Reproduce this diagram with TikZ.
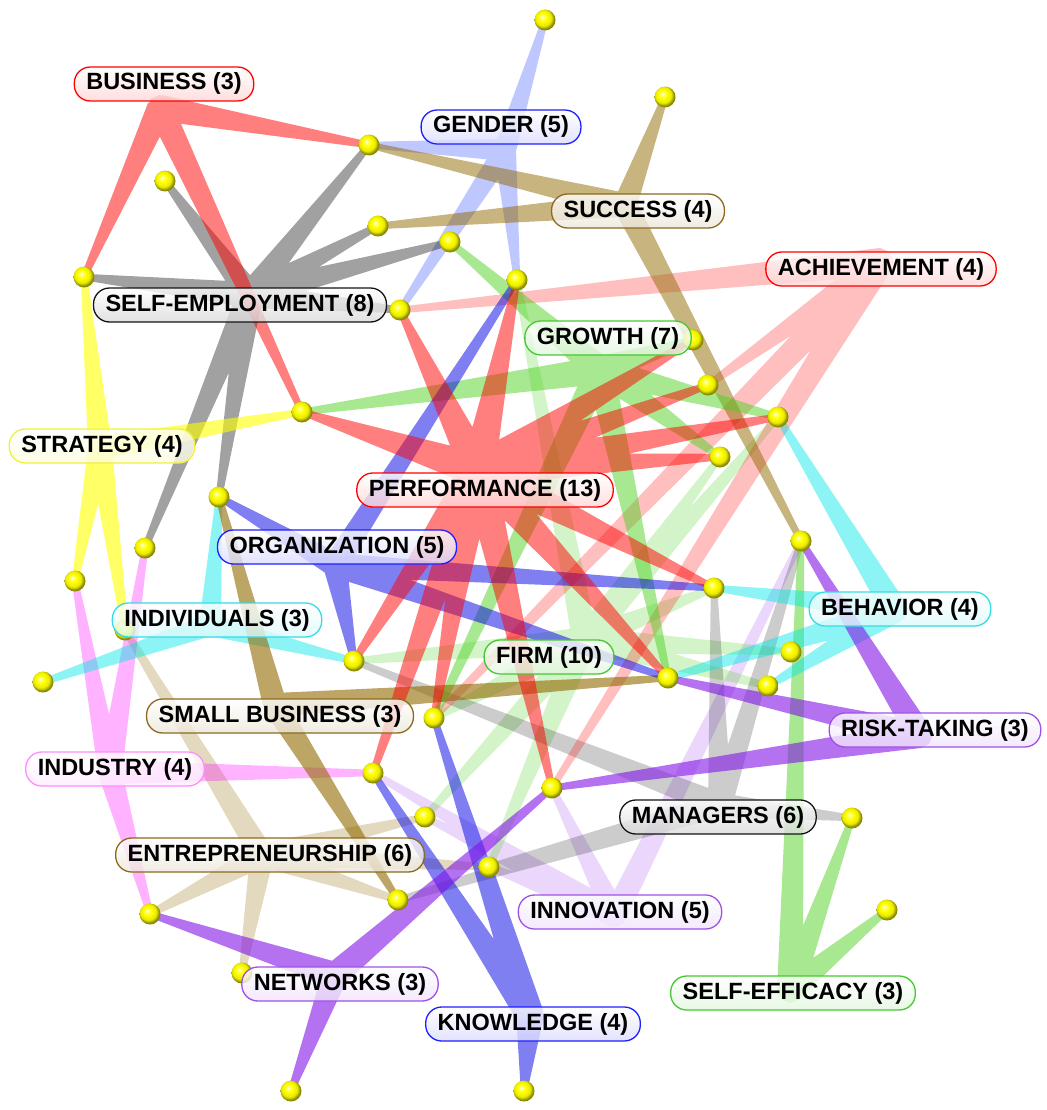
\documentclass[tikz,border=0pt]{standalone}
\usepackage{fontspec}
\setmainfont{Liberation Sans}
\usetikzlibrary{calc}
\pgfdeclarelayer{bg}
\pgfsetlayers{bg,main}

\definecolor{cRed}{RGB}{255,0,0}
\definecolor{cBlk}{RGB}{0,0,0}
\definecolor{cBlue}{RGB}{0,0,230}
\definecolor{cGBlue}{RGB}{0,30,255}
\definecolor{cGreen}{RGB}{80,210,35}
\definecolor{cTan}{RGB}{145,105,0}
\definecolor{cYel}{RGB}{255,255,0}
\definecolor{cCyan}{RGB}{0,230,230}
\definecolor{cPink}{RGB}{255,0,255}
\definecolor{cPurp}{RGB}{130,20,230}

\definecolor{bRed}{RGB}{255,0,0}
\definecolor{bBlk}{RGB}{20,20,20}
\definecolor{bBlue}{RGB}{30,30,255}
\definecolor{bTan}{RGB}{140,105,30}
\definecolor{bGreen}{RGB}{70,200,50}
\definecolor{bYel}{RGB}{240,240,60}
\definecolor{bCyan}{RGB}{50,220,230}
\definecolor{bPink}{RGB}{255,140,255}
\definecolor{bPurp}{RGB}{160,80,230}

\pgfdeclareradialshading{yball}{\pgfqpoint{-7bp}{8bp}}{%
  color(0bp)=(white); color(4bp)=(yellow!55!white); color(10bp)=(yellow);
  color(19bp)=(yellow!92!black); color(25bp)=(yellow!55!black);
  color(50bp)=(yellow!40!black)}

\tikzset{
  lab/.style={rounded corners=16pt, draw=#1, line width=1.3pt,
    top color=white, bottom color=#1!16!white, fill opacity=.8, text opacity=1,
    font=\fontsize{23.5}{28}\selectfont\bfseries,
    inner xsep=12pt, inner ysep=6pt, text height=17pt, text depth=5pt},
  sph/.style={circle, inner sep=0pt, minimum size=21pt, shade, shading=yball}
}

% one filled path per concept: tapered wedges from the hub to each ball
% #1 colour, #2 opacity, #3 hub, #4 hub half-width, #5 balls
\newcommand\grp[5]{%
  \fill[fill=#1, fill opacity=#2]
    \foreach \q in {#5} {
      ($(#3)!#4pt!90:(\q)$) -- ($(\q)!3.2pt!-90:(#3)$) -- ($(\q)!3.2pt!90:(#3)$) -- ($(#3)!#4pt!-90:(\q)$) -- cycle
    }
    ($(#3)+(#4,0)$) -- ($(#3)+(0.7*#4,0.7*#4)$) -- ($(#3)+(0,#4)$) -- ($(#3)+(-0.7*#4,0.7*#4)$) --
    ($(#3)+(-#4,0)$) -- ($(#3)+(-0.7*#4,-0.7*#4)$) -- ($(#3)+(0,-#4)$) -- ($(#3)+(0.7*#4,-0.7*#4)$) -- cycle;}

\begin{document}
\begin{tikzpicture}[x=1pt,y=-1pt]
\useasboundingbox (0,0) rectangle (1046,1110);

% hubs
\coordinate (hBus) at (160,108);
\coordinate (hGen) at (505,150);
\coordinate (hSuc) at (625,205);
\coordinate (hAch) at (880,262);
\coordinate (hSelf) at (250,295);
\coordinate (hGro) at (600,370);
\coordinate (hStr) at (100,448);
\coordinate (hPerf) at (478,470);
\coordinate (hOrg) at (335,565);
\coordinate (hInd) at (210,625);
\coordinate (hBeh) at (895,610);
\coordinate (hFirm) at (585,640);
\coordinate (hSmall) at (275,705);
\coordinate (hRisk) at (920,735);
\coordinate (hIndu) at (110,772);
\coordinate (hMan) at (720,805);
\coordinate (hEnt) at (262,855);
\coordinate (hInno) at (615,915);
\coordinate (hNet) at (335,975);
\coordinate (hEff) at (790,990);
\coordinate (hKno) at (530,1015);

% balls
\node[sph] (b1) at (545,20) {};
\node[sph] (b2) at (665,97) {};
\node[sph] (b3) at (369,145) {};
\node[sph] (b4) at (165,181) {};
\node[sph] (b5) at (378,226) {};
\node[sph] (b6) at (450,242) {};
\node[sph] (b7) at (84,277) {};
\node[sph] (b8) at (517,280) {};
\node[sph] (b9) at (400,310) {};
\node[sph] (b10) at (693,340) {};
\node[sph] (b11) at (708,385) {};
\node[sph] (b12) at (778,417) {};
\node[sph] (b13) at (302,412) {};
\node[sph] (b14) at (720,457) {};
\node[sph] (b15) at (219,497) {};
\node[sph] (b16) at (145,548) {};
\node[sph] (b17) at (801,541) {};
\node[sph] (b18) at (75,581) {};
\node[sph] (b19) at (125,630) {};
\node[sph] (b20) at (714,588) {};
\node[sph] (b21) at (43,682) {};
\node[sph] (b22) at (354,661) {};
\node[sph] (b23) at (791,652) {};
\node[sph] (b24) at (668,678) {};
\node[sph] (b25) at (768,686) {};
\node[sph] (b26) at (434,718) {};
\node[sph] (b27) at (373,773) {};
\node[sph] (b28) at (552,788) {};
\node[sph] (b29) at (425,817) {};
\node[sph] (b30) at (852,818) {};
\node[sph] (b31) at (489,867) {};
\node[sph] (b32) at (398,900) {};
\node[sph] (b33) at (150,914) {};
\node[sph] (b34) at (887,910) {};
\node[sph] (b35) at (242,973) {};
\node[sph] (b36) at (291,1091) {};
\node[sph] (b37) at (524,1091) {};

% labels
\node[lab=bRed] (lBus) at (164,84) {BUSINESS (3)};
\node[lab=bBlue] (lGen) at (501,127) {GENDER (5)};
\node[lab=bTan] (lSuc) at (638,211) {SUCCESS (4)};
\node[lab=bRed] (lAch) at (881,269) {ACHIEVEMENT (4)};
\node[lab=bBlk] (lSelf) at (240,305) {SELF-EMPLOYMENT (8)};
\node[lab=bGreen] (lGro) at (608,338) {GROWTH (7)};
\node[lab=bYel] (lStr) at (102,446) {STRATEGY (4)};
\node[lab=bRed] (lPerf) at (485,490) {PERFORMANCE (13)};
\node[lab=bBlue] (lOrg) at (337,547) {ORGANIZATION (5)};
\node[lab=bCyan] (lInd) at (217,620) {INDIVIDUALS (3)};
\node[lab=bCyan] (lBeh) at (900,609) {BEHAVIOR (4)};
\node[lab=bGreen] (lFirm) at (549,657) {FIRM (10)};
\node[lab=bTan] (lSmall) at (280,716) {SMALL BUSINESS (3)};
\node[lab=bPurp] (lRisk) at (935,730) {RISK-TAKING (3)};
\node[lab=bPink] (lIndu) at (115,769) {INDUSTRY (4)};
\node[lab=bBlk] (lMan) at (718,817) {MANAGERS (6)};
\node[lab=bTan] (lEnt) at (270,855) {ENTREPRENEURSHIP (6)};
\node[lab=bPurp] (lInno) at (620,912) {INNOVATION (5)};
\node[lab=bPurp] (lNet) at (340,984) {NETWORKS (3)};
\node[lab=bGreen] (lEff) at (793,993) {SELF-EFFICACY (3)};
\node[lab=bBlue] (lKno) at (533,1024) {KNOWLEDGE (4)};

\begin{pgfonlayer}{bg}
\grp{cPurp}{.17}{hInno}{12}{b17,b27,b28,b29,b31}
\grp{cTan}{.25}{hEnt}{12}{b19,b29,b31,b32,b33,b35}
\grp{cGreen}{.25}{hFirm}{13}{b8,b14,b20,b22,b23,b25,b29,b31,b12,b26}
\grp{cBlk}{.2}{hMan}{12}{b17,b20,b22,b30,b31,b32}
\grp{cGBlue}{.25}{hGen}{11}{b1,b3,b6,b8,b9}
\grp{cRed}{.25}{hAch}{14}{b9,b11,b28,b26}
\grp{cPink}{.3}{hIndu}{12}{b16,b18,b27,b33}
\grp{cBlk}{.37}{hSelf}{13}{b3,b4,b5,b6,b7,b9,b15,b16}
\grp{cYel}{.6}{hStr}{12}{b7,b13,b18,b19}
\grp{cTan}{.5}{hSuc}{12}{b2,b3,b5,b17}
\grp{cGreen}{.5}{hGro}{14}{b6,b10,b12,b13,b14,b24,b26}
\grp{cGreen}{.5}{hEff}{13}{b17,b30,b34}
\grp{cCyan}{.45}{hInd}{11}{b15,b21,b22}
\grp{cCyan}{.45}{hBeh}{13}{b12,b20,b24,b25}
\grp{cTan}{.6}{hSmall}{12}{b15,b24,b32}
\grp{cBlue}{.5}{hOrg}{12}{b8,b15,b20,b22,b24}
\grp{cBlue}{.5}{hKno}{14}{b26,b27,b31,b37}
\grp{cPurp}{.6}{hRisk}{13}{b17,b24,b28}
\grp{cPurp}{.6}{hNet}{13}{b28,b33,b36}
\grp{cRed}{.5}{hBus}{13}{b7,b3,b13}
\grp{cRed}{.5}{hPerf}{17}{b8,b9,b10,b11,b12,b13,b14,b20,b22,b24,b26,b27,b28}
\end{pgfonlayer}
\end{tikzpicture}
\end{document}
